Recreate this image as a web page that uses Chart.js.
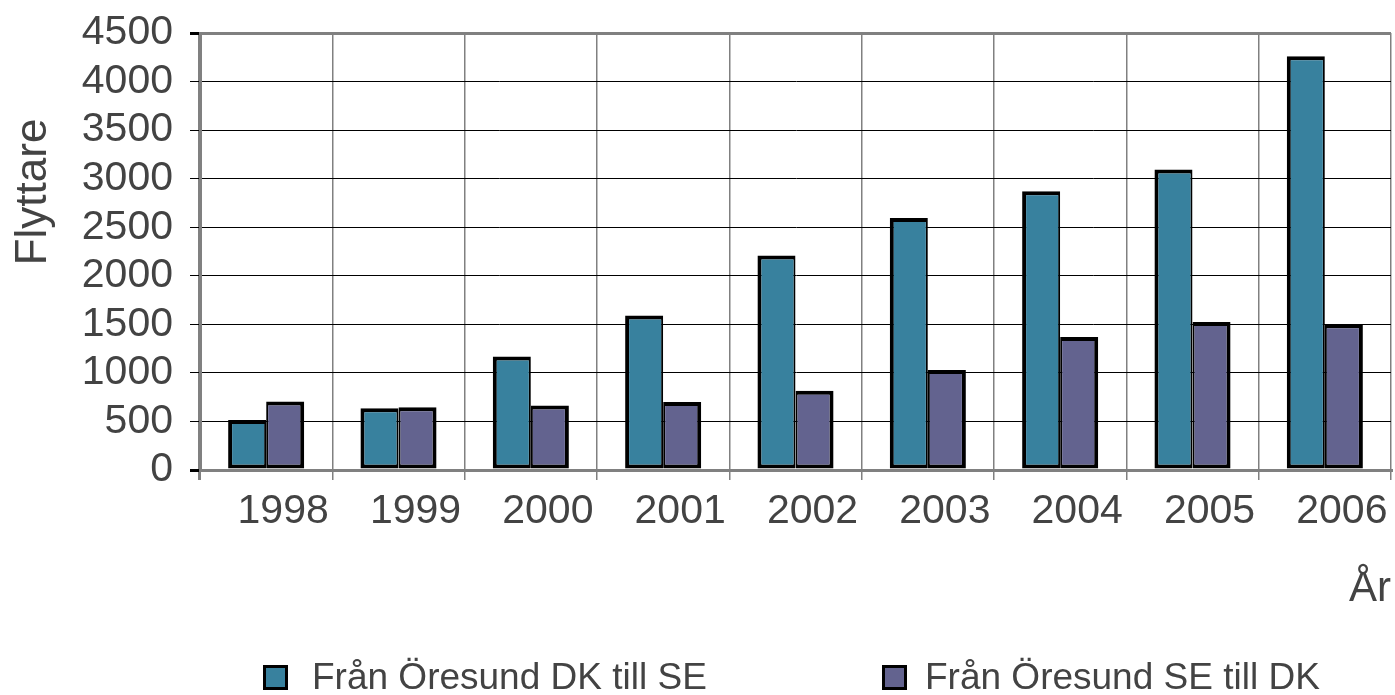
<!DOCTYPE html>
<html>
<head>
<meta charset="utf-8">
<script src="https://cdn.jsdelivr.net/npm/chart.js@4/dist/chart.umd.min.js"></script>
<style>
html,body{margin:0;padding:0;background:#ffffff;overflow:hidden}
#wrap{width:1395px;height:695px;position:relative}
</style>
</head>
<body>
<div id="wrap"><canvas id="c" width="1395" height="695"></canvas></div>
<script>
// ---- data ----
const years = ['1998','1999','2000','2001','2002','2003','2004','2005','2006'];
const dkToSe = [515, 635, 1170, 1590, 2210, 2595, 2870, 3095, 4260];
const seToDk = [705, 645, 665, 700, 815, 1030, 1370, 1525, 1500];
const seriesNames = ['Från Öresund DK till SE', 'Från Öresund SE till DK'];
const seriesColors = ['#38819e', '#63638f'];
const yTickValues = [0, 500, 1000, 1500, 2000, 2500, 3000, 3500, 4000, 4500];
const yTitle = 'Flyttare';
const xTitle = 'År';

const yMin = yTickValues[0];
const yMax = yTickValues[yTickValues.length - 1];
const FONT = "'Liberation Sans', Arial, sans-serif";
const TEXT = '#434343';
const GRAY = '#808080';

const yTitlePlugin = {
  id: 'yTitle',
  afterDraw(chart) {
    const ctx = chart.ctx;
    ctx.save();
    ctx.translate(34, 192);
    ctx.rotate(-Math.PI / 2);
    ctx.font = '44px ' + FONT;
    ctx.fillStyle = TEXT;
    ctx.textAlign = 'center';
    ctx.textBaseline = 'middle';
    ctx.fillText(yTitle, 0, 0);
    ctx.restore();
  }
};

const legendPlugin = {
  id: 'bottomLegend',
  afterDraw(chart) {
    const ctx = chart.ctx;
    const slots = [{box: 263, text: 312}, {box: 882, text: 925}];
    ctx.save();
    chart.data.datasets.forEach((ds, i) => {
      const s = slots[i];
      ctx.fillStyle = '#000';
      ctx.fillRect(s.box, 665, 25, 25);
      ctx.fillStyle = ds.backgroundColor;
      ctx.fillRect(s.box + 3, 668, 19, 19);
      ctx.font = '37px ' + FONT;
      ctx.fillStyle = TEXT;
      ctx.textAlign = 'left';
      ctx.textBaseline = 'alphabetic';
      ctx.fillText(ds.label, s.text, 689);
    });
    ctx.restore();
  }
};

new Chart(document.getElementById('c'), {
  type: 'bar',
  data: {
    labels: years,
    datasets: [
      {
        label: seriesNames[0],
        data: dkToSe,
        backgroundColor: seriesColors[0],
        borderColor: '#000',
        borderWidth: {top: 4, left: 4, bottom: 4, right: 2},
        borderSkipped: false,
        categoryPercentage: 0.575,
        barPercentage: 1
      },
      {
        label: seriesNames[1],
        data: seToDk,
        backgroundColor: seriesColors[1],
        borderColor: '#000',
        borderWidth: {top: 4, left: 2, bottom: 4, right: 4},
        borderSkipped: false,
        categoryPercentage: 0.575,
        barPercentage: 1
      }
    ]
  },
  options: {
    responsive: false,
    animation: false,
    layout: {padding: {top: 33, right: 4, left: 0, bottom: 0}},
    plugins: {
      legend: {display: false},
      tooltip: {enabled: false},
      title: {display: false}
    },
    scales: {
      x: {
        offset: true,
        afterFit(scale) { scale.height = 225; },
        grid: {
          offset: true,
          color: GRAY,
          lineWidth: (c) => (c.index === 0 || c.index === years.length) ? 3 : 1.5,
          tickColor: GRAY,
          tickLength: 10,
          drawTicks: true
        },
        border: {display: true, color: GRAY, width: 3},
        ticks: {
          font: {family: FONT, size: 41},
          color: TEXT,
          padding: 7,
          labelOffset: 17,
          maxRotation: 0,
          autoSkip: false
        },
        title: {
          display: true,
          text: xTitle,
          align: 'end',
          font: {family: FONT, size: 42},
          color: TEXT,
          padding: {top: 0, bottom: 80}
        }
      },
      y: {
        min: yMin,
        max: yMax,
        afterFit(scale) {
          scale.width = 200;
          scale.paddingTop = 0;
          scale.paddingBottom = 0;
        },
        afterBuildTicks(scale) { scale.ticks = yTickValues.map(v => ({value: v})); },
        grid: {
          color: (c) => (c.tick && (c.tick.value === yMin || c.tick.value === yMax)) ? GRAY : '#000',
          lineWidth: (c) => (c.tick && (c.tick.value === yMin || c.tick.value === yMax)) ? 3 : 1,
          tickColor: '#000',
          tickLength: 10
        },
        border: {display: true, color: GRAY, width: 3},
        ticks: {
          font: {family: FONT, size: 41, lineHeight: 1},
          color: TEXT,
          padding: 17,
          autoSkip: false,
          callback: (v) => String(v)
        },
        title: {display: false}
      }
    }
  },
  plugins: [yTitlePlugin, legendPlugin]
});
</script>
</body>
</html>
